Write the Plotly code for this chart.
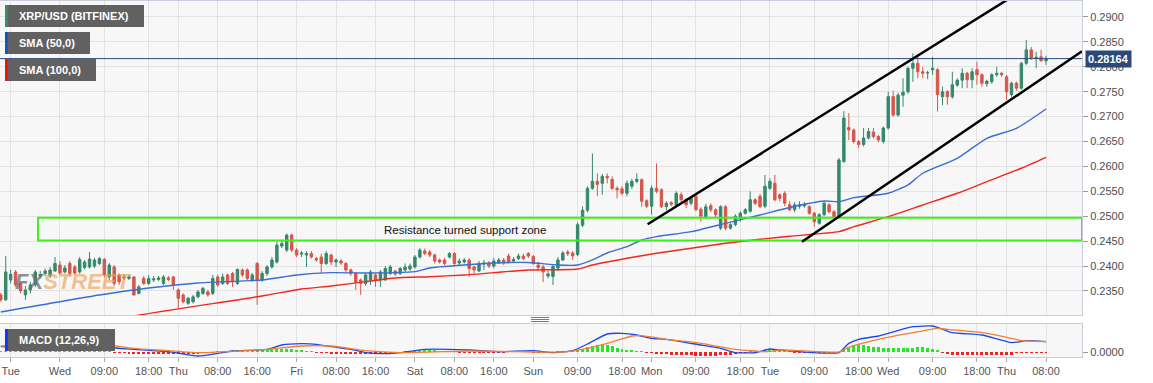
import plotly.graph_objects as go

# ---------------- DATA (hourly candles, index 0 = Tue 12:00) ----------------
opens = [
 .2342,.2332,.2372,.2388,.2365,.2342,.2352,.2362,.2380,.2385,.2380,.2390,.2402,.2388,.2405,.2398,.2388,.2397,.2398,.2400,
 .2405,.2413,.2378,.2398,.2382,.2376,.2375,.2378,.2345,.2375,.2365,.2372,.2373,.2365,.2376,.2378,.2352,.2342,.2325,.2328,
 .2338,.2345,.2348,.2345,.2378,.2365,.2382,.2385,.2365,.2392,.2392,.2372,.2405,.2372,
 .2385,.2398,.2408,.2440,.2432,.2462,.2432,.2424,.2422,.2425,.2415,.2418,.2405,.2422,.2408,.2410,.2405,.2392,.2385,.2372,
 .2365,.2372,.2382,.2372,.2372,.2385,.2390,.2385,.2392,.2394,.2398,.2418,.2430,.2428,.2422,.2412,.2412,.2418,.2425,.2406,
 .2408,.2412,.2398,.2390,.2404,.2406,.2400,.2406,.2412,.2420,.2410,.2415,.2420,
 .2425,.2419,.2402,.2398,.2380,.2379,.2396,.2412,.2428,.2426,.2423,.2482,.2512,.2556,.2570,.2566,.2580,.2574,.2556,.2555,
 .2546,.2560,.2570,.2573,.2531,.2520,.2556,.2553,.2519,.2527,.2522,.2543,.2533,.2526,.2540,.2514,.2499,.2521,.2513,.2476,
 .2519,.2476,.2483,.2496,.2506,.2510,.2533,.2540,.2520,.2556,.2566,.2543,.2546,
 .2523,.2513,.2520,.2521,.2519,.2506,.2486,.2503,.2523,.2509,.2499,.2610,.2678,.2673,.2650,.2644,.2657,.2669,.2660,.2650,
 .2677,.2740,.2703,.2743,.2750,.2797,.2807,.2790,.2788,.2794,.2794,.2740,.2750,.2740,.2763,.2773,.2787,.2774,.2794,.2784,
 .2766,.2770,.2784,.2787,.2780,.2744,.2767,.2757,.2807,.2834,.2817,.2820,.2812]
highs = [
 .2346,.2420,.2392,.2392,.2368,.2360,.2368,.2392,.2390,.2395,.2398,.2418,.2410,.2402,.2410,.2402,.2418,.2412,.2428,.2416,
 .2418,.2416,.2406,.2402,.2385,.2384,.2382,.2380,.2362,.2380,.2382,.2380,.2380,.2382,.2380,.2380,.2355,.2345,.2338,.2342,
 .2352,.2358,.2352,.2382,.2382,.2385,.2385,.2388,.2395,.2395,.2395,.2386,.2408,.2390,
 .2402,.2418,.2448,.2452,.2465,.2465,.2436,.2430,.2430,.2430,.2418,.2425,.2430,.2425,.2415,.2414,.2408,.2395,.2388,.2375,
 .2385,.2392,.2385,.2392,.2400,.2402,.2392,.2398,.2405,.2405,.2422,.2436,.2435,.2432,.2425,.2415,.2416,.2428,.2428,.2415,
 .2416,.2415,.2400,.2410,.2412,.2410,.2416,.2416,.2416,.2425,.2418,.2425,.2425,
 .2428,.2422,.2408,.2402,.2390,.2402,.2418,.2430,.2432,.2430,.2488,.2520,.2560,.2626,.2586,.2585,.2586,.2580,.2560,.2560,
 .2572,.2575,.2586,.2576,.2534,.2562,.2606,.2556,.2530,.2530,.2550,.2548,.2536,.2540,.2542,.2518,.2525,.2526,.2516,.2522,
 .2522,.2486,.2504,.2510,.2516,.2550,.2536,.2545,.2583,.2576,.2583,.2546,.2550,
 .2530,.2528,.2530,.2528,.2522,.2509,.2506,.2530,.2526,.2512,.2617,.2711,.2707,.2676,.2653,.2677,.2677,.2677,.2663,.2680,
 .2750,.2752,.2748,.2777,.2800,.2827,.2824,.2800,.2792,.2820,.2797,.2760,.2753,.2790,.2777,.2797,.2790,.2797,.2810,.2787,
 .2774,.2787,.2800,.2790,.2784,.2770,.2770,.2810,.2854,.2840,.2830,.2834,.2822]
lows = [
 .2328,.2330,.2365,.2358,.2345,.2332,.2345,.2358,.2375,.2380,.2376,.2388,.2382,.2385,.2380,.2382,.2385,.2393,.2395,.2396,
 .2402,.2378,.2372,.2360,.2362,.2372,.2372,.2340,.2343,.2362,.2362,.2368,.2370,.2362,.2370,.2352,.2315,.2325,.2322,.2325,
 .2335,.2342,.2338,.2342,.2358,.2362,.2362,.2358,.2362,.2378,.2372,.2368,.2322,.2368,
 .2380,.2395,.2405,.2436,.2428,.2428,.2418,.2418,.2398,.2415,.2408,.2385,.2402,.2402,.2398,.2402,.2388,.2380,.2352,.2342,
 .2360,.2362,.2358,.2358,.2370,.2382,.2380,.2382,.2388,.2390,.2395,.2415,.2422,.2418,.2405,.2405,.2402,.2415,.2402,.2402,
 .2405,.2378,.2385,.2388,.2392,.2396,.2396,.2404,.2402,.2405,.2406,.2412,.2412,
 .2416,.2402,.2390,.2368,.2375,.2362,.2390,.2410,.2420,.2412,.2420,.2478,.2508,.2553,.2540,.2543,.2566,.2552,.2536,.2542,
 .2540,.2555,.2566,.2519,.2516,.2503,.2546,.2516,.2512,.2520,.2518,.2528,.2516,.2522,.2510,.2489,.2495,.2508,.2498,.2472,
 .2472,.2473,.2480,.2489,.2503,.2507,.2522,.2516,.2516,.2553,.2530,.2530,.2520,
 .2510,.2508,.2515,.2517,.2503,.2479,.2483,.2500,.2505,.2496,.2496,.2607,.2653,.2646,.2637,.2640,.2654,.2656,.2649,.2646,
 .2674,.2700,.2700,.2720,.2746,.2770,.2777,.2777,.2775,.2784,.2710,.2723,.2724,.2736,.2760,.2757,.2757,.2757,.2764,.2760,
 .2760,.2766,.2780,.2780,.2733,.2740,.2752,.2754,.2804,.2814,.2797,.2810,.2804]
closes = [
 .2332,.2388,.2383,.2362,.2350,.2352,.2362,.2388,.2383,.2390,.2392,.2405,.2386,.2396,.2385,.2386,.2413,.2408,.2414,.2412,
 .2415,.2382,.2402,.2365,.2368,.2378,.2378,.2342,.2358,.2365,.2375,.2374,.2376,.2378,.2373,.2362,.2335,.2328,.2335,.2338,
 .2348,.2355,.2342,.2375,.2362,.2378,.2365,.2368,.2393,.2382,.2375,.2382,.2372,.2385,
 .2398,.2412,.2442,.2445,.2462,.2432,.2422,.2426,.2425,.2418,.2412,.2405,.2425,.2408,.2412,.2406,.2392,.2385,.2368,.2365,
 .2382,.2388,.2372,.2388,.2395,.2398,.2384,.2395,.2398,.2400,.2418,.2432,.2425,.2422,.2410,.2408,.2405,.2425,.2405,.2410,
 .2412,.2395,.2392,.2405,.2406,.2400,.2410,.2412,.2406,.2408,.2413,.2420,.2415,
 .2420,.2405,.2397,.2388,.2384,.2399,.2412,.2426,.2425,.2420,.2483,.2512,.2556,.2570,.2564,.2580,.2577,.2556,.2553,.2546,
 .2566,.2570,.2574,.2530,.2520,.2556,.2550,.2519,.2526,.2524,.2546,.2533,.2523,.2536,.2513,.2500,.2519,.2513,.2503,.2519,
 .2476,.2483,.2500,.2506,.2513,.2533,.2526,.2519,.2560,.2570,.2533,.2536,.2526,
 .2513,.2523,.2523,.2524,.2506,.2489,.2503,.2526,.2509,.2499,.2613,.2697,.2673,.2650,.2644,.2657,.2670,.2660,.2653,.2677,
 .2740,.2703,.2743,.2749,.2797,.2807,.2790,.2787,.2788,.2797,.2744,.2750,.2740,.2764,.2773,.2787,.2774,.2790,.2784,.2767,
 .2771,.2784,.2787,.2784,.2750,.2767,.2757,.2807,.2834,.2817,.2819,.2812,.2816]

sma50_idx = [0,20,30,40,53,60,67,74,80,84,87,94,100,107,113,117,120,123,127,130,133,140,147,154,160,167,170,173,180,184,187,194,200,206,212]
sma50_val = [.23076,.23418,.23558,.23659,.23719,.23819,.23866,.23860,.23866,.23886,.23960,.24020,.24060,.24070,.24020,.24020,.24121,.24261,.24388,.24522,
             .24589,.24689,.24857,.25024,.25175,.25305,.25291,.25372,.25460,.25627,.25862,.26163,.26564,.26765,.27153]
sma100_idx = [20,27,53,61,67,74,80,87,94,100,107,117,120,127,133,140,147,154,160,170,173,180,187,194,200,207,212]
sma100_val = [.2285,.22996,.23398,.23538,.23598,.23685,.23759,.23785,.23819,.23866,.23920,.23940,.24020,.24155,.24255,.24356,.24456,.24536,.24598,.24689,
              .24789,.24990,.25225,.25460,.25693,.25963,.26183]

# MACD values in units of 1e-4
macd_idx = [0,7,13,20,27,34,40,44,47,54,57,61,64,67,71,74,78,81,84,86,95,101,108,112,116,119,123,126,129,132,135,142,146,149,153,156,158,162,165,170,
            172,174,178,180,185,189,190,193,199,205,208,212]
macd_e4 = [8.0,7.0,7.5,7.5,4.0,0.5,-6.0,-2.0,1.5,4.0,10.5,12.5,11.5,8.0,4.0,-1.0,-2.5,-1.0,2.0,4.0,3.0,0.5,2.0,-1.0,2.0,12.0,27.0,28.0,25.5,20.5,
           19.0,10.5,5.5,-1.0,-1.0,4.5,3.0,0.5,-1.0,-1.0,13.0,19.0,24.0,28.0,38.0,39.0,37.0,29.0,25.5,14.0,17.0,15.5]
signal_idx = [0,13,20,27,34,40,47,54,61,67,74,81,95,101,108,114,119,123,128,130,135,142,149,155,158,162,170,172,178,185,190,192,199,205,207,212]
signal_e4 = [9.0,11.0,12.0,5.5,2.0,-1.0,1.0,4.0,9.0,9.0,2.0,-1.0,1.5,1.0,0.0,0.0,5.5,13.0,24.0,24.5,19.0,13.0,4.0,0.5,3.0,2.0,0.0,7.0,19.0,29.0,
             35.5,34.0,29.0,20.5,17.0,15.5]
hist_e4 = [1.2,1.2,1.0,1.0,1.2,1.2,1.0,0.8,0.6,0.5,0.8,1.0,1.2,1.2,1.2,1.0,1.0,1.2,1.2,1.0,0.8,0.5,0.2,
           -0.5,-1.0,-1.5,-2.0,-2.5,-3.0,-3.0,-3.5,-3.5,-3.5,-3.5,-3.0,-3.0,-3.0,-2.5,-2.5,-2.0,-2.0,-1.5,-1.0,
           -0.5,0.3,
           1.0,1.5,2.0,2.0,2.5,3.0,3.0,3.5,3.5,4.0,4.0,4.5,5.0,5.0,4.5,3.5,2.5,1.5,0.5,
           -0.3,
           -1.0,-1.5,-2.0,-2.5,-3.0,-3.5,-3.5,-3.5,-3.5,-3.5,-3.0,-2.5,-2.5,-2.0,-1.5,-1.0,-0.5,
           0.5,1.5,2.0,2.0,2.0,2.0,2.0,1.5,1.5,1.0,0.5,
           -0.5,-0.8,-1.0,-1.0,-1.0,-1.0,-1.0,-0.8,-0.5,-0.3,
           0.3,0.5,0.5,0.5,0.3,-0.3,-0.5,-0.5,-0.5,-0.3,0.3,0.5,0.8,1.5,
           3.0,4.5,7.5,9.0,10.5,12.0,11.0,9.0,6.0,4.5,3.0,2.0,1.5,1.0,
           -0.8,-1.5,-2.3,-3.0,-3.0,-3.8,-3.8,-4.5,-4.5,-4.5,-5.3,-5.3,-5.3,-5.3,-5.3,-4.5,-4.5,-3.8,-3.0,-1.5,
           -0.5,0.3,0.8,1.5,
           2.3,2.3,2.3,2.0,1.5,0.5,
           -0.8,-1.0,-1.5,-1.5,-1.5,-1.5,-1.5,-1.5,-1.0,-0.5,
           4.5,7.5,10.5,10.5,10.5,9.0,7.5,7.5,6.0,6.0,6.0,6.0,6.0,6.0,6.0,6.8,7.5,6.0,4.5,3.0,
           -1.5,-3.0,-3.8,-3.8,-3.8,-3.8,-3.8,-3.8,-3.8,-4.5,-4.5,-4.5,-4.5,-4.5,-4.5,
           -0.8,-0.8,-0.8,-0.8,-0.8,-0.8,-0.8]

tick_idx = [2.0,12,21,30,36,44,52,60,68,76,84,92,100,108,117,126,132,141,150,156,165,174,180,189,198,204,212]
tick_text = ['Tue','Wed','09:00','18:00','Thu','08:00','16:00','Fri','08:00','16:00','Sat','08:00','16:00','Sun',
             '09:00','18:00','Mon','09:00','18:00','Tue','09:00','18:00','Wed','09:00','18:00','Thu','08:00']
price_ticks = [0.2350,0.2400,0.2450,0.2500,0.2550,0.2600,0.2650,0.2700,0.2750,0.2800,0.2850,0.2900]

last_price = 0.28164
zone_low, zone_high, zone_start = 0.2451, 0.2497, 7.55
channel_upper = ([131.2, 206.0], [0.24837, 0.29461])
channel_lower = ([162.5, 219.3], [0.24488, 0.28310])
zone_label = (94.2, 0.2473, "Resistance turned support zone")

# ---------------- FIGURE ----------------
X_RANGE = [-0.16, 219.3]
GREEN, RED = '#35886c', '#d6574b'
FONT = 'Liberation Sans, Arial, sans-serif'
idx = list(range(len(closes)))

fig = go.Figure()
fig.add_trace(go.Candlestick(
    x=idx, open=opens, high=highs, low=lows, close=closes,
    increasing=dict(line=dict(color=GREEN, width=1), fillcolor=GREEN),
    decreasing=dict(line=dict(color=RED, width=1), fillcolor=RED),
    whiskerwidth=0, hoverinfo='skip', xaxis='x', yaxis='y'))
fig.add_trace(go.Scatter(x=sma50_idx, y=sma50_val, mode='lines',
                         line=dict(color='#3a6fcf', width=1.4, shape='spline', smoothing=0.6),
                         hoverinfo='skip', xaxis='x', yaxis='y'))
fig.add_trace(go.Scatter(x=sma100_idx, y=sma100_val, mode='lines',
                         line=dict(color='#f0281e', width=1.4, shape='spline', smoothing=0.6),
                         hoverinfo='skip', xaxis='x', yaxis='y'))

hist_idx = list(range(len(hist_e4)))
fig.add_trace(go.Bar(x=hist_idx, y=[v * 1e-4 for v in hist_e4], width=0.6,
                     marker=dict(color=['#26e626' if v >= 0 else '#f52020' for v in hist_e4], line=dict(width=0)),
                     hoverinfo='skip', xaxis='x2', yaxis='y2'))
fig.add_trace(go.Scatter(x=macd_idx, y=[v * 1e-4 for v in macd_e4], mode='lines',
                         line=dict(color='#2146e8', width=1.3, shape='spline', smoothing=0.5),
                         hoverinfo='skip', xaxis='x2', yaxis='y2'))
fig.add_trace(go.Scatter(x=signal_idx, y=[v * 1e-4 for v in signal_e4], mode='lines',
                         line=dict(color='#f08030', width=1.3, shape='spline', smoothing=0.5),
                         hoverinfo='skip', xaxis='x2', yaxis='y2'))

PW, PH = 1082.0, 357.0
def px(x): return x / PW
def py(y): return (PH - y) / PH

shapes = []
annotations = []
# green zone
shapes.append(dict(type='rect', xref='x', yref='y', x0=zone_start, x1=X_RANGE[1], y0=zone_low, y1=zone_high,
                   line=dict(color='#3cf01a', width=2), fillcolor='rgba(0,0,0,0)', layer='above'))
# last price line
shapes.append(dict(type='line', xref='paper', yref='y', x0=0, x1=1, y0=last_price, y1=last_price,
                   line=dict(color='#2b4a78', width=1), layer='above'))
# channel lines
for (xs, ys) in (channel_upper, channel_lower):
    shapes.append(dict(type='line', xref='x', yref='y', x0=xs[0], x1=xs[1], y0=ys[0], y1=ys[1],
                       line=dict(color='black', width=2.5), layer='above'))
# legend boxes
boxes = [((5, 144, 5, 27), '#3b8c6e', 'XRP/USD (BITFINEX)'),
         ((5, 90, 32, 54), '#1a4fc4', 'SMA (50,0)'),
         ((5, 96, 59, 81), '#f01010', 'SMA (100,0)'),
         ((5, 115, 329, 351), '#1436e6', 'MACD (12,26,9)')]
for (x0, x1, y0, y1), col, txt in boxes:
    shapes.append(dict(type='rect', xref='paper', yref='paper', x0=px(x0), x1=px(x1), y0=py(y1), y1=py(y0),
                       fillcolor='#616161', line=dict(width=0), layer='above'))
    shapes.append(dict(type='rect', xref='paper', yref='paper', x0=px(x0), x1=px(x0 + 2.7), y0=py(y1), y1=py(y0),
                       fillcolor=col, line=dict(width=0), layer='above'))
    annotations.append(dict(xref='paper', yref='paper', x=px(17), y=py((y0 + y1) / 2), xanchor='left', yanchor='middle',
                            text='<b>%s</b>' % txt, showarrow=False, font=dict(family=FONT, size=11, color='white')))
# drag handle
for yy in (317.5, 319.5, 321.5):
    shapes.append(dict(type='line', xref='paper', yref='paper', x0=px(531), x1=px(549), y0=py(yy), y1=py(yy),
                       line=dict(color='#777', width=1)))

# zone label
annotations.append(dict(x=zone_label[0], y=zone_label[1], xref='x', yref='y', text=zone_label[2], showarrow=False,
                        font=dict(family=FONT, size=11.5, color='#111')))
# price label
annotations.append(dict(xref='paper', yref='y', x=1.0, y=last_price, xanchor='left', yanchor='middle', xshift=3,
                        text='<b>0.28164</b>', showarrow=False, bgcolor='#2b4a78', borderpad=2,
                        font=dict(family=FONT, size=11, color='white')))
# watermark
annotations.append(dict(xref='paper', yref='paper', x=px(13), y=py(281), xanchor='left', yanchor='middle',
                        text='<b><i><span style="color:rgba(110,110,115,0.75)">FX</span>'
                             '<span style="color:rgba(238,160,80,0.65)">STREET</span></i></b>',
                        showarrow=False, font=dict(family=FONT, size=22)))

grid = '#e3e3e3'
border = '#c9cedb'
fig.update_layout(
    width=1153, height=383, margin=dict(l=0, r=71, t=0, b=26),
    paper_bgcolor='white', plot_bgcolor='#f7f7f7', showlegend=False, bargap=0,
    font=dict(family=FONT, size=11, color='#555'),
    xaxis=dict(domain=[0, 1], anchor='y', range=X_RANGE, tickvals=tick_idx, ticktext=tick_text,
               showticklabels=False, ticks='', showgrid=True, gridcolor=grid, zeroline=False,
               showline=True, mirror=True, linecolor=border, rangeslider=dict(visible=False), fixedrange=True),
    yaxis=dict(domain=[py(315), py(1)], anchor='x', side='right', range=[0.23016, 0.29321],
               tickvals=price_ticks, tickformat='.4f', ticks='outside', ticklen=5, tickcolor='#9a9a9a',
               tickfont=dict(size=11, color='#4d4d4d'), showgrid=True, gridcolor=grid, zeroline=False,
               showline=True, mirror=True, linecolor=border),
    xaxis2=dict(domain=[0, 1], anchor='y2', range=X_RANGE, tickvals=tick_idx, ticktext=tick_text,
                ticks='outside', ticklen=4, tickcolor='#aaa', tickfont=dict(size=11, color='#555'),
                ticklabeloverflow='allow',
                showgrid=True, gridcolor=grid, zeroline=False, showline=True, mirror=True, linecolor=border),
    yaxis2=dict(domain=[0, py(324)], anchor='x2', side='right', range=[-7.5e-4, 42e-4],
                tickvals=[0], ticktext=['0.0000'], ticks='outside', ticklen=5, tickcolor='#9a9a9a',
                tickfont=dict(size=11, color='#4d4d4d'), showgrid=False, zeroline=False,
                showline=True, mirror=True, linecolor=border),
    shapes=shapes, annotations=annotations,
)

fig.write_html("out.html", config={'displayModeBar': False},
               post_script="document.body.style.margin='0px';document.body.style.padding='0px';")
